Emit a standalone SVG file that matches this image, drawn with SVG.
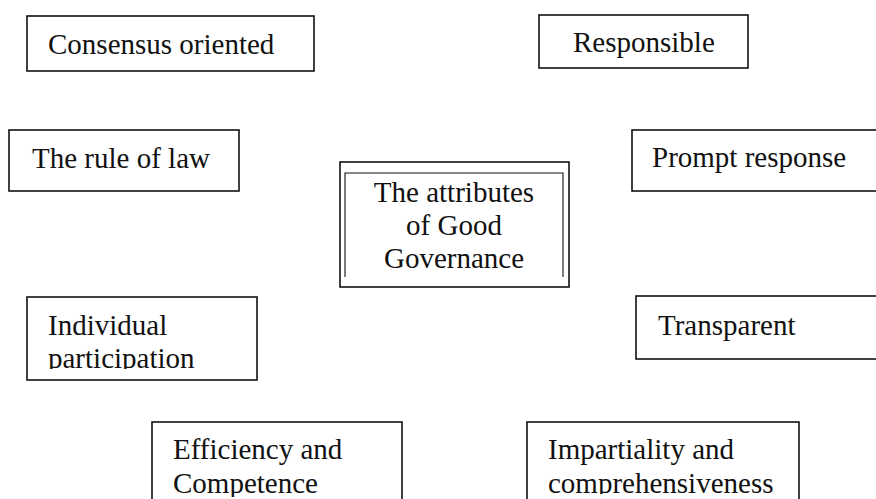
<svg xmlns="http://www.w3.org/2000/svg" width="876" height="499" viewBox="0 0 876 499">
  <style>
    .box { fill: #fff; stroke: #111; stroke-width: 1.6; }
    .inner { fill: none; stroke: #111; stroke-width: 1.1; }
    .lbl { font-family: "Liberation Serif", "Times New Roman", serif; font-size: 29px; fill: #111; }
    .mid { text-anchor: middle; }
  </style>
  <defs>
    <clipPath id="clip-individual"><rect x="27" y="297" width="230" height="72"/></clipPath>
    <clipPath id="clip-efficiency"><rect x="152" y="422" width="250" height="75"/></clipPath>
    <clipPath id="clip-impartiality"><rect x="527" y="422" width="272" height="72"/></clipPath>
  </defs>
  <rect width="876" height="499" fill="#fff"/>

  <g id="connectors"></g>

  <g id="consensus">
    <rect class="box" x="27" y="16" width="287" height="55"/>
    <text class="lbl" x="48" y="54">Consensus oriented</text>
  </g>

  <g id="responsible">
    <rect class="box" x="539" y="15" width="209" height="53"/>
    <text class="lbl" x="573" y="52">Responsible</text>
  </g>

  <g id="rule-of-law">
    <rect class="box" x="9" y="130" width="230" height="61"/>
    <text class="lbl" x="32" y="168">The rule of law</text>
  </g>

  <g id="prompt-response">
    <rect class="box" x="632" y="130" width="300" height="61"/>
    <text class="lbl" x="652" y="167">Prompt response</text>
  </g>

  <g id="center">
    <rect class="box" x="340" y="162" width="229" height="125"/>
    <path class="inner" d="M345,277 V173 H563 V277"/>
    <text class="lbl mid" x="454" y="202">The attributes</text>
    <text class="lbl mid" x="454" y="235">of Good</text>
    <text class="lbl mid" x="454" y="268">Governance</text>
  </g>

  <g id="individual">
    <rect class="box" x="27" y="297" width="230" height="83"/>
    <g clip-path="url(#clip-individual)">
      <text class="lbl" x="48" y="335">Individual</text>
      <text class="lbl" x="48" y="368">participation</text>
    </g>
  </g>

  <g id="transparent">
    <rect class="box" x="636" y="296" width="300" height="63"/>
    <text class="lbl" x="658" y="335">Transparent</text>
  </g>

  <g id="efficiency">
    <rect class="box" x="152" y="422" width="250" height="100"/>
    <g clip-path="url(#clip-efficiency)">
      <text class="lbl" x="173" y="459">Efficiency and</text>
      <text class="lbl" x="173" y="493">Competence</text>
    </g>
  </g>

  <g id="impartiality">
    <rect class="box" x="527" y="422" width="272" height="100"/>
    <g clip-path="url(#clip-impartiality)">
      <text class="lbl" x="548" y="459">Impartiality and</text>
      <text class="lbl" x="548" y="493">comprehensiveness</text>
    </g>
  </g>
</svg>
